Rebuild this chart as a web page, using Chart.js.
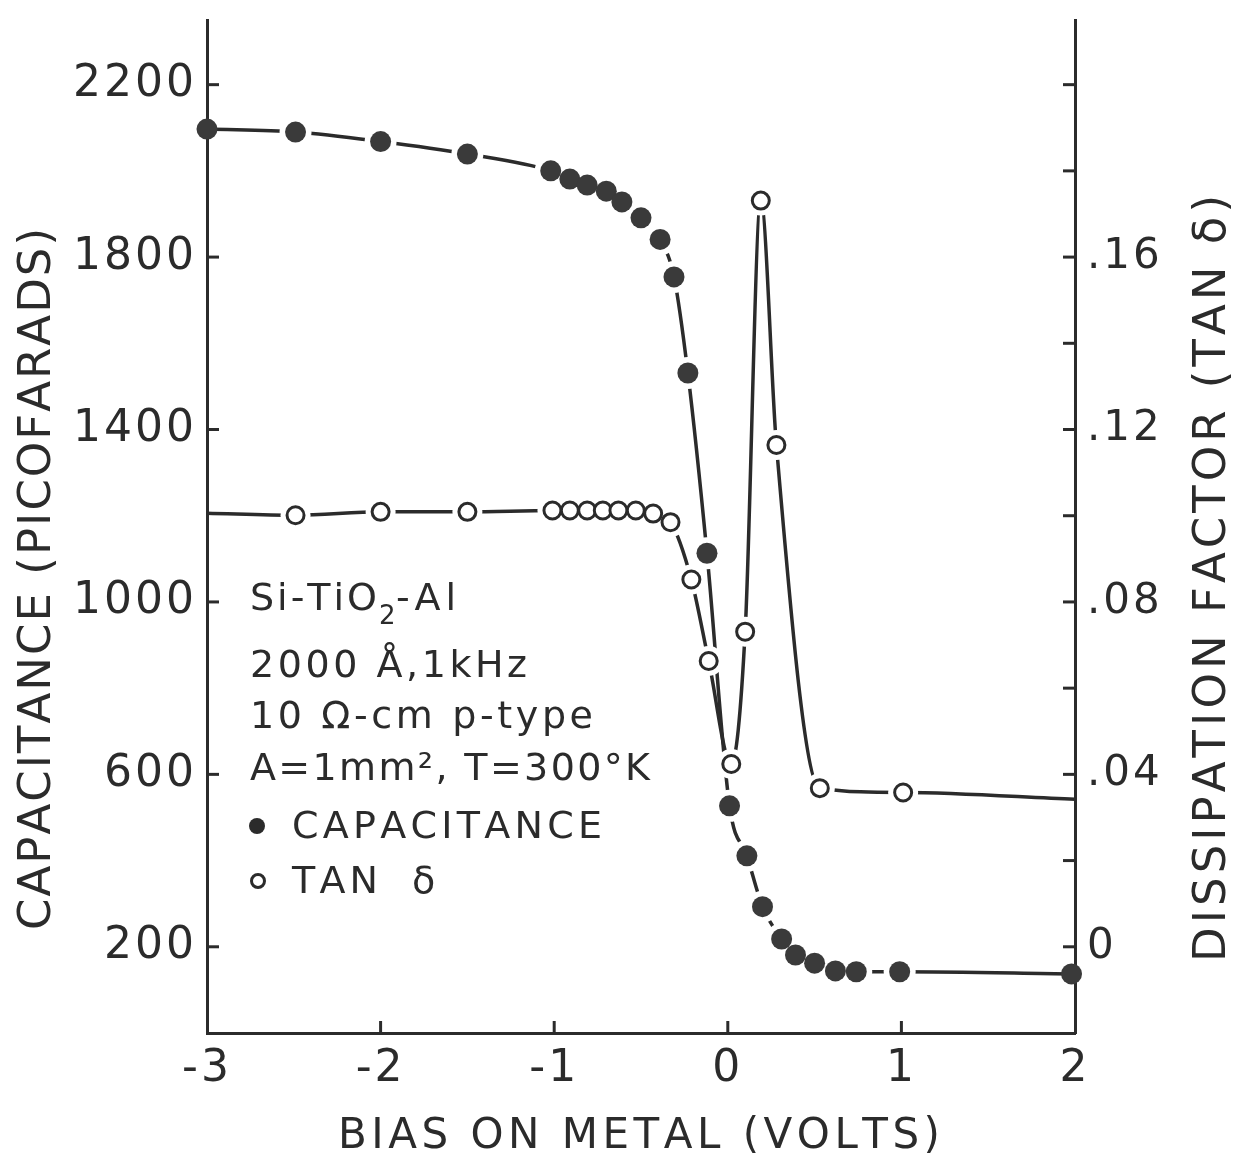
<!DOCTYPE html>
<html>
<head>
<meta charset="utf-8">
<script src="https://cdn.jsdelivr.net/npm/chart.js@4.4.1/dist/chart.umd.min.js"></script>
<style>
  html, body { margin: 0; padding: 0; background: #fff; }
  #wrap { width: 1240px; height: 1154px; position: relative; }
</style>
</head>
<body>
<div id="wrap"><canvas id="myChart"></canvas></div>
<script>
// Capacitance (filled circles)
const capVolts = [-3.0, -2.49, -2.0, -1.5, -1.02, -0.91, -0.81, -0.70, -0.61, -0.50, -0.39, -0.31,
                  -0.23, -0.12, 0.01, 0.11, 0.20, 0.31, 0.39, 0.50, 0.62, 0.74, 0.99, 1.98];
const capPf = [2097, 2090, 2068, 2039, 2000, 1981, 1967, 1953, 1928, 1891, 1841, 1754,
               1531, 1113, 527, 411, 293, 218, 181, 162, 144, 142, 142, 137];

// Dissipation factor (open circles); first and last entries are line ends without a marker
const tanVolts = [-3.0, -2.49, -2.0, -1.5, -1.01, -0.91, -0.81, -0.72, -0.63, -0.53, -0.43, -0.33,
                  -0.21, -0.11, 0.02, 0.10, 0.19, 0.28, 0.53, 1.01, 2.0];
const tanDelta = [0.1006, 0.1001, 0.1009, 0.1009, 0.1012, 0.1012, 0.1012, 0.1012, 0.1012, 0.1012, 0.1005, 0.0985,
                  0.0852, 0.0663, 0.0424, 0.0731, 0.1731, 0.1164, 0.0368, 0.0358, 0.0342];

// Axis ticks
const voltTicks = [-3, -2, -1, 0, 1, 2];
const capTicks = [200, 600, 1000, 1400, 1800, 2200];
const tanTicks = [0, 0.04, 0.08, 0.12, 0.16];
const tanMinorTicks = [0.02, 0.06, 0.10, 0.14, 0.18, 0.20];

// Texts
const xTitle = 'BIAS ON METAL (VOLTS)';
const yTitle = 'CAPACITANCE (PICOFARADS)';
const y1Title = 'DISSIPATION FACTOR (TAN δ)';
const noteLines = ['2000 Å,1kHz', '10 Ω-cm p-type', 'A=1mm², T=300°K'];
const capLabel = 'CAPACITANCE';
const tanLabel = 'TAN δ';

const INK = '#2b2b2b';
const FONT = '"DejaVu Sans", sans-serif';

const capPoints = capVolts.map((v, i) => ({ x: v, y: capPf[i] }));
const tanPoints = tanVolts.map((v, i) => ({ x: v, y: tanDelta[i] }));
const isEnd = (ctx, n) => ctx.dataIndex === 0 || ctx.dataIndex === n - 1;

// draw text char by char so the spacing can be stretched to a given width
function textWidth(ctx, str) {
    let w = 0;
    for (const ch of str) w += ctx.measureText(ch).width;
    return w;
}
function fitText(ctx, str, x, y, target) {
    const chars = [...str];
    const sp = target ? (target - textWidth(ctx, str)) / (chars.length - 1) : 3;
    for (const ch of chars) {
        ctx.fillText(ch, x, y);
        x += ctx.measureText(ch).width + sp;
    }
    return x;
}

// no extra room for the end tick labels, the plot area is fixed
function noPadding(s) {
    s.paddingTop = 0;
    s.paddingBottom = 0;
    s.paddingLeft = 0;
    s.paddingRight = 0;
}

const inkPlugin = {
    id: 'ink',
    beforeDraw(chart) {
        chart.ctx.letterSpacing = '3px';
    },
    afterDraw(chart) {
        const ctx = chart.ctx;
        const { left, right, bottom } = chart.chartArea;
        const xs = chart.scales.x, ys = chart.scales.y, y1s = chart.scales.y1;
        ctx.save();
        ctx.letterSpacing = '0px';
        ctx.strokeStyle = INK;
        ctx.fillStyle = INK;
        ctx.lineWidth = 3;
        ctx.lineCap = 'butt';

        // inward tick marks
        const seg = (x1, y1, x2, y2) => { ctx.beginPath(); ctx.moveTo(x1, y1); ctx.lineTo(x2, y2); ctx.stroke(); };
        voltTicks.slice(1, -1).forEach(v => { const p = xs.getPixelForValue(v); seg(p, bottom, p, bottom - 12); });
        capTicks.forEach(v => { const p = ys.getPixelForValue(v); seg(left, p, left + 12, p); });
        tanTicks.concat(tanMinorTicks).forEach(v => { const p = y1s.getPixelForValue(v); seg(right, p, right - 12, p); });

        // axis titles
        ctx.textBaseline = 'alphabetic';
        ctx.font = '42px ' + FONT;
        fitText(ctx, xTitle, 338, 1148, 602);

        ctx.font = '45px ' + FONT;
        ctx.save();
        ctx.translate(50, 930);
        ctx.rotate(-Math.PI / 2);
        fitText(ctx, yTitle, 0, 0, 702);
        ctx.restore();

        ctx.save();
        ctx.translate(1225, 962);
        ctx.rotate(-Math.PI / 2);
        fitText(ctx, y1Title, 0, 0, 767);
        ctx.restore();

        // annotation block
        ctx.font = '38px ' + FONT;
        let x = fitText(ctx, 'Si-TiO', 250, 610, 127);
        ctx.font = '26px ' + FONT;
        ctx.fillText('2', x - 1, 624);
        ctx.font = '38px ' + FONT;
        fitText(ctx, '-Al', x + 16, 610, 60);

        fitText(ctx, noteLines[0], 250, 677, 277);
        fitText(ctx, noteLines[1], 250, 728, 343);
        fitText(ctx, noteLines[2], 250, 780, 400);

        ctx.beginPath();
        ctx.arc(257, 826, 8, 0, Math.PI * 2);
        ctx.fill();
        fitText(ctx, capLabel, 292, 838, 310);

        ctx.beginPath();
        ctx.arc(258, 881, 6.5, 0, Math.PI * 2);
        ctx.stroke();
        fitText(ctx, 'TAN', 292, 893, 86);
        fitText(ctx, 'δ', 412, 893);
        ctx.restore();
    }
};

const tickFont = { family: FONT, size: 44 };

new Chart(document.getElementById('myChart'), {
    type: 'line',
    data: {
        datasets: [
            // lines
            { data: tanPoints, yAxisID: 'y1', borderColor: INK, borderWidth: 3.5, pointRadius: 0,
              cubicInterpolationMode: 'monotone', order: 5, clip: false },
            { data: capPoints, yAxisID: 'y', borderColor: INK, borderWidth: 3.5, pointRadius: 0,
              cubicInterpolationMode: 'monotone', order: 5, clip: false },
            // white halos leave the little gap between line and marker
            { data: tanPoints, yAxisID: 'y1', showLine: false, pointBorderWidth: 0,
              pointBackgroundColor: '#fff', pointRadius: c => isEnd(c, tanPoints.length) ? 0 : 15,
              order: 3, clip: false },
            { data: capPoints, yAxisID: 'y', showLine: false, pointBorderWidth: 0,
              pointBackgroundColor: '#fff', pointRadius: c => isEnd(c, capPoints.length) ? 0 : 16,
              order: 3, clip: false },
            // markers
            { data: tanPoints, yAxisID: 'y1', showLine: false, pointBorderWidth: 3,
              pointBorderColor: INK, pointBackgroundColor: '#fff',
              pointRadius: c => isEnd(c, tanPoints.length) ? 0 : 8.5, order: 1, clip: false },
            { data: capPoints, yAxisID: 'y', showLine: false, pointBorderWidth: 0,
              pointBackgroundColor: '#3a3a3a', pointRadius: 10.5, order: 1, clip: false }
        ]
    },
    options: {
        responsive: true,
        maintainAspectRatio: false,
        animation: false,
        events: [],
        layout: { padding: { top: 20, left: 0, right: 0, bottom: 0 } },
        plugins: {
            legend: { display: false },
            tooltip: { enabled: false }
        },
        scales: {
            x: {
                type: 'linear',
                min: -3,
                max: 2,
                afterBuildTicks: s => { s.ticks = voltTicks.map(v => ({ value: v })); },
                afterFit: s => { s.height = 121; noPadding(s); },
                grid: { display: false, drawTicks: false },
                border: { display: true, color: INK, width: 3 },
                ticks: { font: tickFont, color: INK, padding: 10, callback: v => String(v) }
            },
            y: {
                position: 'left',
                min: 0,
                max: 2350,
                afterBuildTicks: s => { s.ticks = capTicks.map(v => ({ value: v })); },
                afterFit: s => { s.width = 207; noPadding(s); },
                grid: { display: false, drawTicks: false },
                border: { display: true, color: INK, width: 3 },
                ticks: { font: tickFont, color: INK, padding: 10, callback: v => String(v) }
            },
            y1: {
                position: 'right',
                min: -0.02,
                max: 0.215,
                afterBuildTicks: s => { s.ticks = tanTicks.map(v => ({ value: v })); },
                afterFit: s => { s.width = 165; noPadding(s); },
                grid: { display: false, drawTicks: false },
                border: { display: true, color: INK, width: 3 },
                ticks: {
                    font: { family: FONT, size: 42 }, color: INK, padding: 12,
                    callback: v => v === 0 ? '0' : '.' + String(Math.round(v * 100)).padStart(2, '0')
                }
            }
        }
    },
    plugins: [inkPlugin]
});
</script>
</body>
</html>
